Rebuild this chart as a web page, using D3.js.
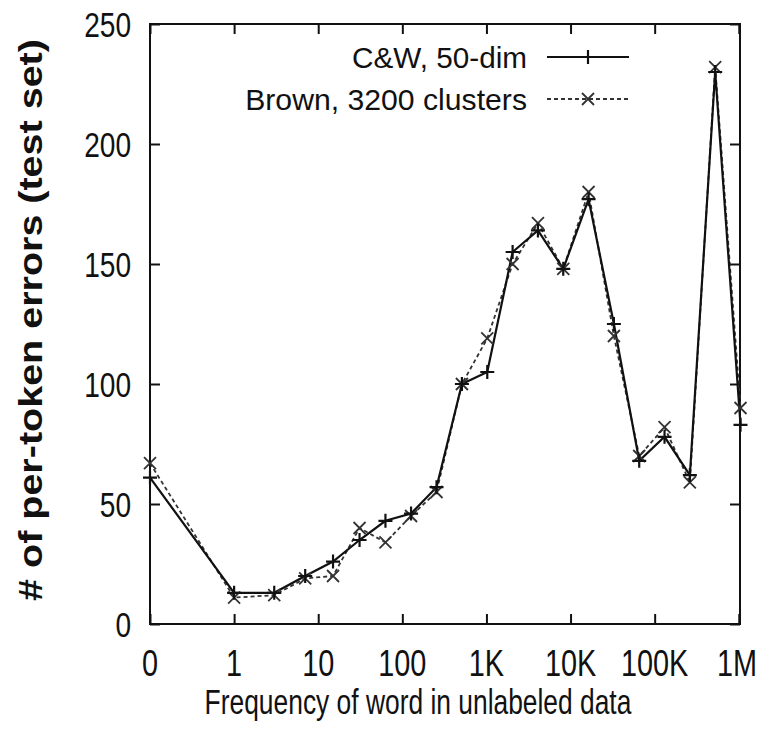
<!DOCTYPE html>
<html>
<head>
<meta charset="utf-8">
<script src="https://cdn.jsdelivr.net/npm/d3@7"></script>
<style>
  html, body { margin: 0; padding: 0; background: #fff; }
  svg { display: block; }
  text { font-family: "Liberation Sans", Arial, sans-serif; fill: #111; }
</style>
</head>
<body>
<svg id="chart" width="761" height="747"></svg>
<script>
// ---- data ----
const freqs = [0, 1, 3, 7, 15, 31, 63, 127, 255, 511, 1023, 2047, 4095, 8191, 16383, 32767, 65535, 131071, 262143, 524287, 1048575];
const cwErrors = [61, 13, 13, 20, 26, 35, 43, 46, 57, 100, 105, 155, 164, 148, 177, 125, 68, 78, 62, 230, 83];
const brownErrors = [67, 11, 12, 19, 20, 40, 34, 45, 55, 100, 119, 150, 167, 148, 180, 120, 70, 82, 59, 232, 90];
const xTickValues = [0, 1, 10, 100, 1000, 10000, 100000, 1000000];
const xTickLabels = ["0", "1", "10", "100", "1K", "10K", "100K", "1M"];
const yTickValues = [0, 50, 100, 150, 200, 250];
const seriesNames = ["C&W, 50-dim", "Brown, 3200 clusters"];

// ---- layout ----
const svg = d3.select("#chart");
const L = 150, R = 740, T = 24, B = 624;

const logScale = d3.scaleLog().domain([0.1, 1048576]).range([L, 740.5]);
const x = v => logScale(v === 0 ? 0.1 : v);
const y = d3.scaleLinear().domain([0, 250]).range([B, T]);

// place text with a horizontal squeeze (real glyph compression via transform)
function placeText(sel, px, py, sx, extra) {
  sel.each(function (d, i) {
    const X = typeof px === "function" ? px(d, i) : px;
    const Y = typeof py === "function" ? py(d, i) : py;
    let s = typeof sx === "function" ? sx.call(this, d, i) : sx;
    d3.select(this).attr("transform", `translate(${X},${Y})${extra || ""} scale(${s},1)`);
  });
}
function fitWidth(target) {
  return function () { return target / this.getComputedTextLength(); };
}

// frame
svg.append("rect").attr("x", L).attr("y", T).attr("width", R - L).attr("height", B - T)
  .attr("fill", "none").attr("stroke", "#111").attr("stroke-width", 2);

// axes with inner ticks (all four sides)
const xTickPos = xTickValues.map(v => v === 0 ? 0.1 : v);
const xAxisB = d3.axisTop(logScale).tickValues(xTickPos).tickSize(10).tickFormat("");
const xAxisT = d3.axisBottom(logScale).tickValues(xTickPos).tickSize(10).tickFormat("");
const yAxisL = d3.axisRight(y).tickValues(yTickValues).tickSize(10).tickFormat("");
const yAxisR = d3.axisLeft(y).tickValues(yTickValues).tickSize(10).tickFormat("");
[[xAxisB, `translate(0,${B})`], [xAxisT, `translate(0,${T})`], [yAxisL, `translate(${L},0)`], [yAxisR, `translate(${R},0)`]]
  .forEach(([ax, tr]) => {
    const g = svg.append("g").attr("transform", tr).call(ax);
    g.select(".domain").remove();
    g.selectAll("line").attr("stroke", "#111").attr("stroke-width", 2);
  });

// tick labels
const xl = svg.append("g").selectAll("text").data(xTickValues).join("text")
  .attr("text-anchor", "middle").attr("font-size", 37).text((d, i) => xTickLabels[i]);
placeText(xl, d => Math.min(x(d), 737), 676, 0.78);

const yl = svg.append("g").selectAll("text").data(yTickValues).join("text")
  .attr("text-anchor", "end").attr("font-size", 36).text(d => d);
placeText(yl, 131, d => y(d) + 13, 0.78);

// axis titles
const xt = svg.append("text").attr("text-anchor", "middle").attr("font-size", 36)
  .text("Frequency of word in unlabeled data");
placeText(xt, 418, 714, fitWidth(427));

const yt = svg.append("text").attr("text-anchor", "middle").attr("font-size", 34)
  .attr("font-weight", "bold").text("# of per-token errors (test set)");
placeText(yt, 42, 320, fitWidth(562), " rotate(-90)");

// markers
function plusMarker(g, cx, cy, s) {
  g.append("path").attr("d", `M${cx - s},${cy}H${cx + s}M${cx},${cy - s}V${cy + s}`)
    .attr("stroke", "#111").attr("stroke-width", 2.2).attr("fill", "none");
}
function crossMarker(g, cx, cy, s) {
  g.append("path").attr("d", `M${cx - s},${cy - s}L${cx + s},${cy + s}M${cx - s},${cy + s}L${cx + s},${cy - s}`)
    .attr("stroke", "#333").attr("stroke-width", 1.8).attr("fill", "none");
}

const line = d3.line().x(d => x(d[0])).y(d => y(d[1]));
const cwData = freqs.map((f, i) => [f, cwErrors[i]]);
const brData = freqs.map((f, i) => [f, brownErrors[i]]);

const plot = svg.append("g");
plot.append("path").datum(brData).attr("d", line).attr("fill", "none")
  .attr("stroke", "#333").attr("stroke-width", 1.8).attr("stroke-dasharray", "4,3");
plot.append("path").datum(cwData).attr("d", line).attr("fill", "none")
  .attr("stroke", "#111").attr("stroke-width", 2.2);
brData.forEach(d => crossMarker(plot, x(d[0]), y(d[1]), 6));
cwData.forEach(d => plusMarker(plot, x(d[0]), y(d[1]), 7));

// legend
const lg = svg.append("g");
const l1 = lg.append("text").attr("text-anchor", "end").attr("font-size", 30).text(seriesNames[0]);
placeText(l1, 527, 68, fitWidth(175));
const l2 = lg.append("text").attr("text-anchor", "end").attr("font-size", 30).text(seriesNames[1]);
placeText(l2, 527, 110, fitWidth(282));
lg.append("line").attr("x1", 547).attr("x2", 629).attr("y1", 57).attr("y2", 57)
  .attr("stroke", "#111").attr("stroke-width", 2.2);
plusMarker(lg, 588, 57, 7);
lg.append("line").attr("x1", 547).attr("x2", 629).attr("y1", 99).attr("y2", 99)
  .attr("stroke", "#333").attr("stroke-width", 1.8).attr("stroke-dasharray", "4,3");
crossMarker(lg, 588, 99, 6);
</script>
</body>
</html>
